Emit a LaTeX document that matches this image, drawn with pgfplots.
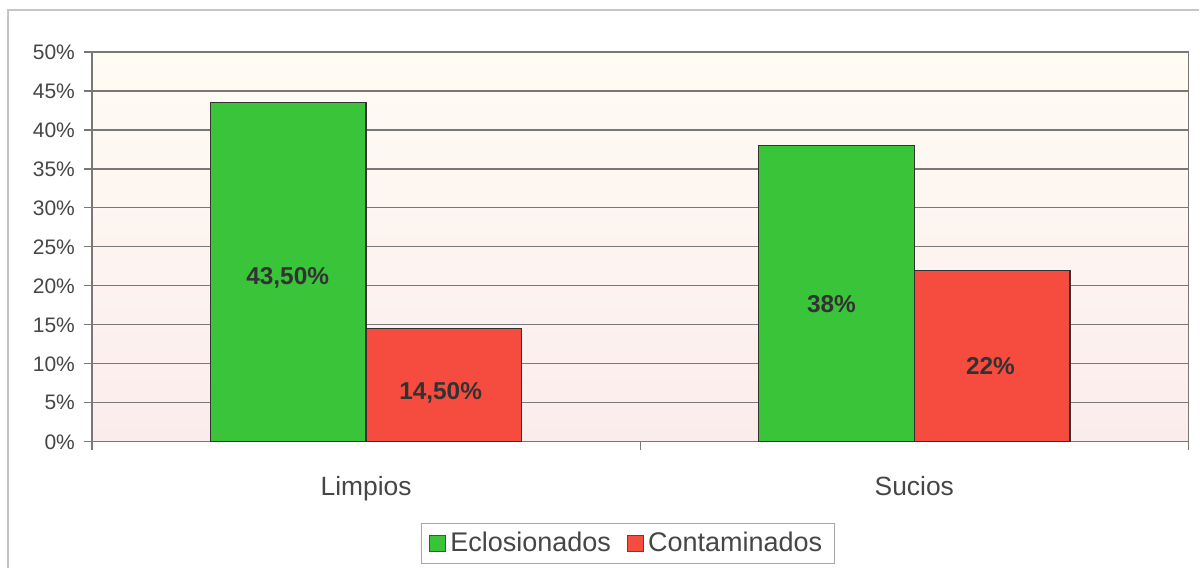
\documentclass[border=0pt]{standalone}
\usepackage{pgfplots}
\pgfplotsset{compat=1.18}
\usepackage{fontspec}
\setmainfont{Liberation Sans}
\definecolor{barG}{RGB}{58,196,58}
\definecolor{barR}{RGB}{246,76,64}
\definecolor{txt}{RGB}{70,70,70}
\definecolor{gridc}{RGB}{120,120,120}
\begin{document}
\begin{tikzpicture}[x=1pt,y=1pt]
\path[fill=white] (0,0) rectangle (600,284);
\draw[gray!45, line width=0.6pt] (4,0) -- (4,279) -- (600,279);
\begin{axis}[
  at={(46pt,63pt)}, anchor=south west,
  scale only axis, width=548.5pt, height=195pt,
  ybar=0pt, bar width=0.284,
  xmin=-0.5, xmax=1.5, ymin=0, ymax=50,
  xtick={0,1}, xticklabels={Limpios,Sucios},
  minor xtick={-0.5,0.5,1.5},
  xtick pos=bottom, ytick pos=left,
  ytick={0,5,...,50},
  yticklabel={\pgfmathprintnumber{\tick}\%},
  /pgf/number format/assume math mode=true,
  major x tick style={draw=none},
  tick align=outside,
  minor tick length=4pt, major tick length=4pt,
  tick style={gridc, line width=0.6pt},
  ymajorgrids, grid style={gridc, line width=0.6pt},
  axis line style={gridc, line width=0.6pt},
  axis background/.style={shade, top color={rgb,255:red,255;green,252;blue,244}, bottom color={rgb,255:red,251;green,236;blue,236}},
  yticklabel style={font=\fontsize{10.5}{12}\selectfont, text=txt, xshift=-1pt},
  xticklabel style={font=\fontsize{13.2}{15}\selectfont, text=txt, yshift=-10pt},
  legend style={at={(axis description cs:0.4886,-0.2615)}, anchor=center,
    legend columns=2, draw=gray!70, line width=0.5pt, fill=white,
    font=\fontsize{13.5}{15}\selectfont, text=txt,
    inner xsep=4pt, inner ysep=2.5pt,
    /tikz/every even column/.append style={column sep=6pt}},
  legend image code/.code={\draw[#1, draw=black!70, line width=0.6pt] (0pt,-4pt) rectangle (8pt,4pt);},
]
\addplot[fill=barG, draw=black!80, line width=0.7pt] coordinates {(0,43.5) (1,38)};
\addplot[fill=barR, draw=black!80, line width=0.7pt] coordinates {(0,14.5) (1,22)};
\legend{Eclosionados,Contaminados}
\node[font=\bfseries\fontsize{12.2}{14}\selectfont, text={rgb,255:red,50;green,50;blue,50}] at (axis cs:-0.143,21.0) {43,50\%};
\node[font=\bfseries\fontsize{12.2}{14}\selectfont, text={rgb,255:red,50;green,50;blue,50}] at (axis cs:0.136,6.3) {14,50\%};
\node[font=\bfseries\fontsize{12.2}{14}\selectfont, text={rgb,255:red,50;green,50;blue,50}] at (axis cs:0.849,17.7) {38\%};
\node[font=\bfseries\fontsize{12.2}{14}\selectfont, text={rgb,255:red,50;green,50;blue,50}] at (axis cs:1.139,9.7) {22\%};
\end{axis}
\end{tikzpicture}
\end{document}
